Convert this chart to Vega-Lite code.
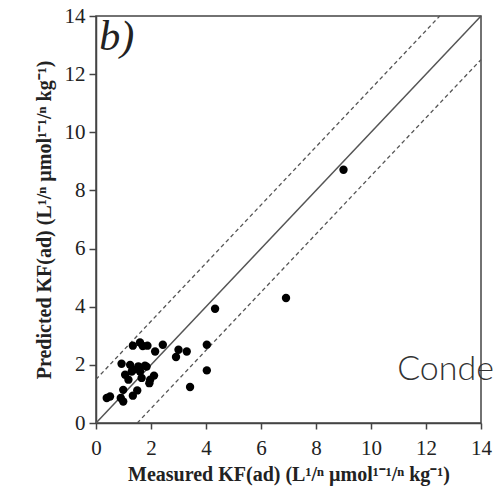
{
  "$schema": "https://vega.github.io/schema/vega-lite/v6.json",
  "autosize": {"type": "none"},
  "padding": {"left": 96, "top": 16, "right": 13, "bottom": 79},
  "width": 385,
  "height": 407,
  "background": "white",
  "config": {
    "view": {"stroke": "#444", "strokeWidth": 1.5},
    "axis": {
      "grid": false, "domainColor": "#444", "domainWidth": 1.5,
      "tickColor": "#444", "tickWidth": 1.5, "labelFont": "Times New Roman", "labelFontSize": 21,
      "labelColor": "#222", "labelFlush": false, "labelOverlap": false,
      "titleFont": "Times New Roman", "titleFontSize": 20, "titleFontWeight": "bold", "titleColor": "#222"
    },
    "axisX": {"tickSize": 6, "labelPadding": 8, "titlePadding": 6},
    "axisY": {"tickSize": 7, "labelPadding": 4, "titlePadding": 10}
  },
  "datasets": {
    "pts": [
      {"x": 9.0, "y": 8.71}, {"x": 6.91, "y": 4.3}, {"x": 4.33, "y": 3.93},
      {"x": 4.03, "y": 2.69}, {"x": 4.03, "y": 1.81}, {"x": 3.42, "y": 1.24},
      {"x": 3.3, "y": 2.46}, {"x": 3.0, "y": 2.52}, {"x": 2.91, "y": 2.27},
      {"x": 2.43, "y": 2.69}, {"x": 2.15, "y": 2.46}, {"x": 1.87, "y": 2.66},
      {"x": 1.6, "y": 2.77}, {"x": 1.34, "y": 2.66}, {"x": 0.93, "y": 2.04},
      {"x": 1.24, "y": 2.0}, {"x": 1.54, "y": 1.95}, {"x": 1.78, "y": 1.97},
      {"x": 1.06, "y": 1.66}, {"x": 1.3, "y": 1.77}, {"x": 1.6, "y": 1.77},
      {"x": 1.18, "y": 1.49}, {"x": 1.66, "y": 1.55}, {"x": 1.97, "y": 1.49},
      {"x": 2.11, "y": 1.63}, {"x": 1.94, "y": 1.37}, {"x": 0.99, "y": 1.14},
      {"x": 1.5, "y": 1.12}, {"x": 1.34, "y": 0.94}, {"x": 0.99, "y": 0.74},
      {"x": 0.51, "y": 0.91}, {"x": 0.39, "y": 0.86}, {"x": 0.9, "y": 0.86},
      {"x": 1.84, "y": 1.94}, {"x": 1.7, "y": 2.65}, {"x": 1.36, "y": 1.83}
    ],
    "lines": [
      {"line": "one", "x": 0, "y": 0}, {"line": "one", "x": 14, "y": 14},
      {"line": "up", "x": 0, "y": 1.5}, {"line": "up", "x": 12.5, "y": 14},
      {"line": "down", "x": 1.5, "y": 0}, {"line": "down", "x": 14, "y": 12.5}
    ],
    "labels": [
      {"t": "b)", "x": 0.12, "y": 13.95}
    ],
    "wm": [
      {"t": "Conde", "x": 10.95, "y": 1.49}
    ]
  },
  "encoding": {
    "x": {"field": "x", "type": "quantitative", "scale": {"domain": [0, 14], "nice": false},
      "axis": {"values": [0, 2, 4, 6, 8, 10, 12, 14],
        "title": "Measured KF(ad) (L¹/ⁿ µmol¹⁻¹/ⁿ kg⁻¹)"}},
    "y": {"field": "y", "type": "quantitative", "scale": {"domain": [0, 14], "nice": false},
      "axis": {"values": [0, 2, 4, 6, 8, 10, 12, 14],
        "title": "Predicted KF(ad) (L¹/ⁿ µmol¹⁻¹/ⁿ kg⁻¹)"}}
  },
  "layer": [
    {
      "data": {"name": "lines"},
      "transform": [{"filter": "datum.line === 'one'"}],
      "mark": {"type": "line", "color": "#555", "strokeWidth": 1.5},
      "encoding": {"detail": {"field": "line"}}
    },
    {
      "data": {"name": "lines"},
      "transform": [{"filter": "datum.line !== 'one'"}],
      "mark": {"type": "line", "color": "#555", "strokeWidth": 1.3, "strokeDash": [4, 3]},
      "encoding": {"detail": {"field": "line"}}
    },
    {
      "data": {"name": "pts"},
      "mark": {"type": "circle", "color": "#000", "opacity": 1, "size": 70},
      "encoding": {}
    },
    {
      "data": {"name": "labels"},
      "mark": {"type": "text", "align": "left", "baseline": "top", "font": "Times New Roman", "fontStyle": "italic", "fontSize": 42, "color": "#222"},
      "encoding": {"text": {"field": "t"}}
    },
    {
      "data": {"name": "wm"},
      "mark": {"type": "text", "align": "left", "baseline": "alphabetic", "font": "Lato", "fontWeight": 300, "fontSize": 34, "color": "#333"},
      "encoding": {"text": {"field": "t"}}
    }
  ]
}
